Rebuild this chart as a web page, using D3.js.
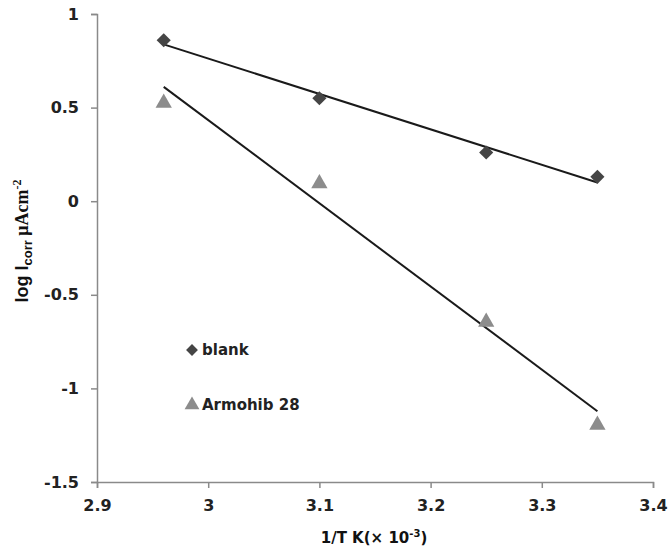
<!DOCTYPE html>
<html>
<head>
<meta charset="utf-8">
<script src="https://cdn.jsdelivr.net/npm/d3@7"></script>
<style>
  html, body { margin: 0; padding: 0; background: #fff; }
  svg { display: block; }
</style>
</head>
<body>
<svg id="chart" width="668" height="550"></svg>
<script>
// Inverse temperature (×10^-3 K^-1) and log corrosion current density
const invT = [2.96, 3.1, 3.25, 3.35];
const blank = [0.86, 0.55, 0.26, 0.13];
const armohib = [0.53, 0.10, -0.64, -1.19];
const xTicks = [2.9, 3.0, 3.1, 3.2, 3.3, 3.4];
const yTicks = [1, 0.5, 0, -0.5, -1, -1.5];
const seriesNames = ["blank", "Armohib 28"];

const svg = d3.select("#chart");

const x = d3.scaleLinear().domain([2.9, 3.4]).range([97, 653]);
const y = d3.scaleLinear().domain([-1.5, 1]).range([482, 14]);

const axisColor = "#8a8a8a";
const labelFont = "DejaVu Sans, Verdana, sans-serif";

// Axes
const xAxis = svg.append("g")
  .attr("transform", `translate(0,${y(-1.5)})`)
  .call(d3.axisBottom(x).tickValues(xTicks).tickSize(6).tickPadding(12)
    .tickFormat(d => String(+d.toFixed(1))));
const yAxis = svg.append("g")
  .attr("transform", `translate(${x(2.9)},0)`)
  .call(d3.axisLeft(y).tickValues(yTicks).tickSize(6).tickPadding(12)
    .tickFormat(d => String(d)));

[xAxis, yAxis].forEach(g => {
  g.select(".domain").attr("stroke", axisColor).attr("stroke-width", 1.5);
  g.selectAll(".tick line").attr("stroke", axisColor).attr("stroke-width", 1.5);
  g.selectAll(".tick text")
    .attr("fill", "#222")
    .style("font-family", labelFont)
    .style("font-size", "16px")
    .style("font-weight", "bold");
});

// Least-squares trend line over a series
function fit(xs, ys) {
  const mx = d3.mean(xs), my = d3.mean(ys);
  let sxy = 0, sxx = 0;
  xs.forEach((v, i) => { sxy += (v - mx) * (ys[i] - my); sxx += (v - mx) ** 2; });
  const m = sxy / sxx, b = my - m * mx;
  return d3.extent(xs).map(v => [v, m * v + b]);
}

const line = d3.line().x(d => x(d[0])).y(d => y(d[1]));

[blank, armohib].forEach(vals => {
  svg.append("path")
    .datum(fit(invT, vals))
    .attr("d", line)
    .attr("fill", "none")
    .attr("stroke", "#1a1a1a")
    .attr("stroke-width", 2);
});

const diamond = d3.symbol().type(d3.symbolSquare).size(100)();
const triangle = d3.symbol().type(d3.symbolTriangle).size(115)();

// Blank markers (diamonds)
svg.append("g").selectAll("path")
  .data(invT.map((v, i) => [v, blank[i]]))
  .join("path")
  .attr("d", diamond)
  .attr("transform", d => `translate(${x(d[0])},${y(d[1])}) rotate(45)`)
  .attr("fill", "#454545");

// Armohib 28 markers (triangles)
svg.append("g").selectAll("path")
  .data(invT.map((v, i) => [v, armohib[i]]))
  .join("path")
  .attr("d", triangle)
  .attr("transform", d => `translate(${x(d[0])},${y(d[1]) + 1})`)
  .attr("fill", "#8c8c8c");

// Legend
const legend = svg.append("g");
const legendRows = [
  { name: seriesNames[0], sym: d3.symbol().type(d3.symbolSquare).size(70)(), rot: 45, fill: "#454545", ly: 350 },
  { name: seriesNames[1], sym: d3.symbol().type(d3.symbolTriangle).size(95)(), rot: 0, fill: "#8c8c8c", ly: 405 }
];
legendRows.forEach(r => {
  legend.append("path")
    .attr("d", r.sym)
    .attr("transform", `translate(192,${r.ly}) rotate(${r.rot})`)
    .attr("fill", r.fill);
  legend.append("text")
    .attr("x", 202).attr("y", r.ly + 5)
    .attr("fill", "#222")
    .style("font-family", labelFont)
    .style("font-size", "15px")
    .style("font-weight", "bold")
    .text(r.name);
});

// Axis titles
const xt = svg.append("text")
  .attr("x", 374).attr("y", 543)
  .attr("text-anchor", "middle")
  .attr("fill", "#111")
  .style("font-family", labelFont)
  .style("font-size", "15px")
  .style("font-weight", "bold");
xt.append("tspan").text("1/T K(× 10");
xt.append("tspan").attr("dy", -6).style("font-size", "10px").text("-3");
xt.append("tspan").attr("dy", 6).text(")");

const yt = svg.append("text")
  .attr("transform", "translate(28,241) rotate(-90)")
  .attr("text-anchor", "middle")
  .attr("fill", "#111")
  .style("font-family", "Liberation Sans, Arial, sans-serif")
  .style("font-size", "18px")
  .style("font-weight", "bold");
yt.append("tspan").text("log I");
yt.append("tspan").attr("dy", 4).style("font-size", "13px").text("corr");
yt.append("tspan").attr("dy", -4)
  .style("font-family", "Liberation Serif, Times New Roman, serif").text(" μAcm");
yt.append("tspan").attr("dy", -7).style("font-size", "12px")
  .style("font-family", "Liberation Serif, Times New Roman, serif").text("-2");
</script>
</body>
</html>
